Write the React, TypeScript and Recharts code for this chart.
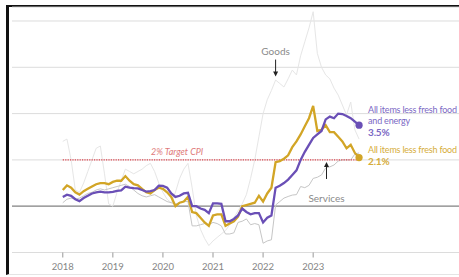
import { LineChart, Line, XAxis, YAxis, CartesianGrid, ReferenceLine, ReferenceDot } from "recharts"

// Monthly, Jan 2018 .. Dec 2023 (index 0..71)
const YEARS = ["2018", "2019", "2020", "2021", "2022", "2023"]
const YEAR_TICKS = [0, 12, 24, 36, 48, 60]
const Y_TICKS = [-2, 0, 2, 4, 6, 8]

// all items less fresh food
const CORE = [
  0.7, 0.9, 0.8, 0.6, 0.5, 0.65, 0.75, 0.85, 0.95, 1.0, 1.0, 0.95,
  1.05, 1.1, 1.1, 1.3, 1.1, 0.95, 0.9, 0.75, 0.6, 0.55, 0.7, 0.8,
  0.75, 0.6, 0.4, 0.0, 0.15, 0.2, 0.4, -0.25, -0.3, -0.5, -0.7, -0.85,
  -0.4, -0.35, -0.35, -0.85, -0.75, -0.65, -0.45, 0.0, 0.05, 0.1, 0.15, 0.45,
  0.2, 0.55, 0.8, 1.9, 1.95, 2.05, 2.2, 2.55, 2.8, 3.1, 3.45, 3.8,
  4.33, 3.25, 3.3, 3.5, 3.2, 3.2, 3.0, 2.8, 2.5, 2.65, 2.3, 2.1,
]

// all items less fresh food and energy
const CORE_CORE = [
  0.4, 0.5, 0.45, 0.3, 0.22, 0.35, 0.45, 0.55, 0.6, 0.63, 0.6, 0.6,
  0.62, 0.66, 0.68, 0.84, 0.8, 0.78, 0.77, 0.7, 0.63, 0.65, 0.7, 0.89,
  0.88, 0.8, 0.55, 0.4, 0.45, 0.55, 0.58, 0.0, 0.0, -0.1, -0.16, -0.3,
  0.12, 0.12, 0.1, -0.65, -0.65, -0.55, -0.4, -0.1, -0.25, -0.35, -0.3, -0.3,
  -0.7, -0.5, -0.4, 0.8, 0.88, 1.0, 1.15, 1.35, 1.55, 2.0, 2.35, 2.65,
  2.95, 3.1, 3.25, 3.75, 3.87, 3.8, 4.0, 3.98, 3.9, 3.8, 3.65, 3.5,
]

const GOODS = [
  2.8, 2.9, 2.0, 0.7, 0.6, 1.0, 1.5, 2.0, 2.5, 2.6, 1.4, 0.1,
  0.0, 0.6, 1.1, 1.6, 1.5, 1.4, 1.5, 1.6, 1.75, 1.85, 1.5, 1.0,
  0.6, 0.3, 0.15, 0.6, 1.2, 1.6, 1.85, 0.8, -0.4, -1.0, -1.4, -1.7,
  -1.5, -1.35, -1.2, -1.05, -0.8, -0.5, -0.2, 0.1, 0.5, 1.2, 2.0, 3.0,
  4.0, 4.6, 5.0, 5.45, 5.3, 5.15, 5.5, 5.88, 5.67, 6.5, 7.1, 7.7,
  8.4, 6.6, 6.0, 5.67, 5.5, 5.1, 4.8, 4.37, 3.94, 4.5, 3.3, 2.9,
]

const SERVICES = [
  0.15, 0.3, 0.35, 0.3, 0.35, 0.45, 0.55, 0.6, 0.7, 0.75, 0.7, 0.75,
  0.8, 0.85, 0.9, 0.95, 0.85, 0.7, 0.55, 0.45, 0.4, 0.45, 0.5, 0.4,
  0.3, 0.2, 0.15, 0.1, 0.15, 0.2, 0.2, -0.85, -0.85, -0.8, -0.75, -0.8,
  -0.7, -0.75, -0.85, -1.2, -1.2, -1.15, -0.7, -0.65, -0.55, -0.8, -0.75, -0.8,
  -1.6, -1.5, -1.45, 0.05, 0.2, 0.35, 0.42, 0.48, 0.5, 0.85, 0.8, 0.9,
  1.2, 1.25, 1.35, 1.65, 1.7, 1.78, 1.95, 2.0, 2.0, 2.0, 2.25, 2.3,
]

const TARGET = 2
const LAST = CORE.length - 1

const data = CORE.map((v, i) => ({
  i,
  core: v,
  coreCore: CORE_CORE[i],
  goods: GOODS[i],
  services: SERVICES[i],
}))

const FONT = "Lato, 'Open Sans', sans-serif"
const PURPLE = "#6a4fb6"
const GOLD = "#d2a526"

const YTick = ({ y, payload }: any) => (
  <text x={12} y={y - 3} fill="#9a9a9a" fontSize={9.5} fontFamily={FONT}>
    {payload.value === 8 ? "8%" : String(payload.value)}
  </text>
)

const center = (vb: any) => ({ cx: vb.x + vb.width / 2, cy: vb.y + vb.height / 2 })

const GoodsNote = ({ viewBox }: any) => {
  const { cx, cy } = center(viewBox)
  return (
    <g>
      <text x={cx} y={cy - 22} textAnchor="middle" fill="#8a8a8a" fontSize={10} fontFamily={FONT}>Goods</text>
      <line x1={cx} y1={cy - 17} x2={cx} y2={cy - 4} stroke="#222" strokeWidth={1} />
      <path d={`M${cx - 2.5},${cy - 5} L${cx + 2.5},${cy - 5} L${cx},${cy} Z`} fill="#222" />
    </g>
  )
}

const ServicesNote = ({ viewBox }: any) => {
  const { cx, cy } = center(viewBox)
  return (
    <g>
      <path d={`M${cx - 2.5},${cy + 5} L${cx + 2.5},${cy + 5} L${cx},${cy} Z`} fill="#222" />
      <line x1={cx} y1={cy + 4} x2={cx} y2={cy + 17} stroke="#222" strokeWidth={1} />
      <text x={cx} y={cy + 40} textAnchor="middle" fill="#8a8a8a" fontSize={10} fontFamily={FONT}>Services</text>
    </g>
  )
}

const TargetNote = ({ viewBox }: any) => {
  const { cx, cy } = center(viewBox)
  return (
    <text x={cx} y={cy - 5} textAnchor="middle" fill="#e07a7a" fontSize={9} fontStyle="italic" fontFamily={FONT}>
      2% Target CPI
    </text>
  )
}

const EndLabel = ({ viewBox, lines, value, color, first, gap }: any) => {
  const { cx, cy } = center(viewBox)
  const x = cx + 9
  const top = cy + first
  return (
    <g fontFamily={FONT} fontSize={9} letterSpacing={-0.2}>
      {lines.map((t: string, k: number) => (
        <text key={k} x={x} y={top + k * 10.5} fill={color}>{t}</text>
      ))}
      <text x={x} y={top + (lines.length - 1) * 10.5 + gap} fill={color} fontWeight="bold" fontSize={10}>{value}</text>
    </g>
  )
}

export default function App() {
  return (
    <div style={{ position: "fixed", left: 0, top: 0, width: 459, height: 277, background: "#fff", overflow: "hidden" }}>
      <div
        style={{
          position: "absolute", left: 6, top: 5, right: 0, bottom: 2,
          borderTop: "2px solid #111", borderLeft: "3px solid #111", borderBottom: "1px solid #e4e4e4",
        }}
      />
      <div style={{ position: "absolute", left: 0, top: 0 }}>
        <LineChart width={459} height={277} data={data} margin={{ top: 7.1, right: 0, left: 12, bottom: 0 }}>
          <CartesianGrid vertical={false} stroke="#dcdcdc" />
          <XAxis
            dataKey="i"
            type="number"
            domain={[-12.17, 94.95]}
            allowDataOverflow
            ticks={YEAR_TICKS}
            tickFormatter={(v: number) => YEARS[Math.round(v / 12)]}
            height={24.5}
            axisLine={false}
            tickLine={{ stroke: "#999" }}
            tickSize={5}
            tickMargin={6}
            tick={{ fill: "#858585", fontSize: 9.5, fontFamily: FONT }}
          />
          <YAxis domain={[-2, 8.6]} allowDataOverflow ticks={Y_TICKS} width={0} axisLine={false} tickLine={false} tick={<YTick />} />
          <ReferenceLine y={0} stroke="#8a8a8a" strokeWidth={1.2} />
          <Line dataKey="goods" type="linear" stroke="#e6e6e6" strokeWidth={1} dot={false} isAnimationActive={false} />
          <Line dataKey="services" type="linear" stroke="#c6c6c6" strokeWidth={1} dot={false} isAnimationActive={false} />
          <ReferenceLine
            segment={[{ x: 0, y: TARGET }, { x: LAST, y: TARGET }]}
            stroke="#e0404a"
            strokeWidth={1.4}
            strokeDasharray="1.2 1.2"
          />
          <Line dataKey="core" type="linear" stroke={GOLD} strokeWidth={2.3} dot={false} isAnimationActive={false} />
          <Line dataKey="coreCore" type="linear" stroke={PURPLE} strokeWidth={2.3} dot={false} isAnimationActive={false} />
          <ReferenceDot x={27.4} y={TARGET} r={0} fill="none" stroke="none" label={<TargetNote />} />
          <ReferenceDot x={51} y={5.6} r={0} fill="none" stroke="none" label={<GoodsNote />} />
          <ReferenceDot x={63.2} y={1.91} r={0} fill="none" stroke="none" label={<ServicesNote />} />
          <ReferenceDot
            x={LAST}
            y={CORE_CORE[LAST]}
            r={3.6}
            fill={PURPLE}
            stroke="none"
            label={<EndLabel lines={["All items less fresh food", "and energy"]} value="3.5%" color="#7b68c4" first={-12} gap={12.5} />}
          />
          <ReferenceDot
            x={LAST}
            y={CORE[LAST]}
            r={3.6}
            fill={GOLD}
            stroke="none"
            label={<EndLabel lines={["All items less fresh food"]} value="2.1%" color="#d6ad3a" first={-5} gap={12} />}
          />
        </LineChart>
      </div>
    </div>
  )
}
